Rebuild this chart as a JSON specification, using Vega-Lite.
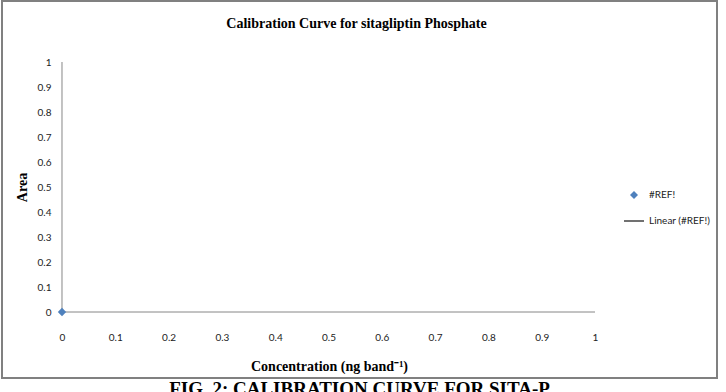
{
  "$schema": "https://vega.github.io/schema/vega-lite/v6.json",
  "width": 715,
  "height": 377,
  "autosize": {"type": "none"},
  "padding": {"left": 2, "top": 1, "right": 9, "bottom": 14},
  "background": "white",
  "title": {"text": "FIG. 2: CALIBRATION CURVE FOR SITA-P", "orient": "bottom", "anchor": "middle", "offset": 2, "font": "Liberation Serif", "fontSize": 19, "fontWeight": "bold", "color": "#000000"},
  "config": {
    "view": {"stroke": "#808080", "strokeWidth": 2},
    "axis": {"labelFont": "Lato", "labelFontSize": 10, "labelColor": "#222222", "labelOverlap": false, "titleFont": "Liberation Serif", "titleFontWeight": "bold", "titleFontSize": 13, "titleColor": "#000000", "grid": false, "domain": false, "ticks": false},
    "legend": {"orient": "none", "legendX": 627, "legendY": 189, "padding": 0, "rowPadding": 16, "labelOffset": 10, "symbolSize": 64, "symbolStrokeWidth": 0, "labelFont": "Lato", "labelFontSize": 10, "labelColor": "#222222"}
  },
  "layer": [
    {
      "data": {"values": [{"x": 0, "y": 0, "x2": 0, "y2": 1}, {"x": 0, "y": 0, "x2": 1, "y2": 0}]},
      "mark": {"type": "rule", "color": "#868686", "strokeWidth": 1},
      "encoding": {
        "x": {"field": "x", "type": "quantitative", "scale": {"domain": [-0.11257, 1.22889], "nice": false, "zero": false},
          "axis": {"orient": "bottom", "offset": -66, "values": [0, 0.1, 0.2, 0.3, 0.4, 0.5, 0.6, 0.7, 0.8, 0.9, 1], "format": "~g", "labelOverlap": false, "labelPadding": 20, "title": "Concentration (ng band⁻¹)", "titlePadding": 17, "titleX": 327, "titleAlign": "center", "titleFontSize": 14}},
        "x2": {"field": "x2"},
        "y": {"field": "y", "type": "quantitative", "scale": {"domain": [-0.264, 1.244], "nice": false, "zero": false},
          "axis": {"orient": "left", "offset": -60, "values": [0, 0.1, 0.2, 0.3, 0.4, 0.5, 0.6, 0.7, 0.8, 0.9, 1], "format": "~g", "labelOverlap": false, "labelPadding": 11, "title": "Area", "titlePadding": 8, "titleY": 186, "titleFontSize": 14}},
        "y2": {"field": "y2"}
      }
    },
    {
      "data": {"values": [{"x": 0, "y": 0, "series": "#REF!"}]},
      "mark": {"type": "point", "filled": true, "opacity": 1, "size": 70},
      "encoding": {
        "x": {"field": "x", "type": "quantitative", "scale": {"domain": [-0.11257, 1.22889], "nice": false, "zero": false},
          "axis": {"orient": "top", "offset": -29, "labels": false, "title": "Calibration Curve for sitagliptin Phosphate", "titleFontSize": 14, "titlePadding": 0, "titleX": 354, "titleAlign": "center"}},
        "y": {"field": "y", "type": "quantitative", "scale": {"domain": [-0.264, 1.244], "nice": false, "zero": false}, "axis": {"values": [0, 0.1, 0.2, 0.3, 0.4, 0.5, 0.6, 0.7, 0.8, 0.9, 1], "labelOverlap": false}},
        "color": {"field": "series", "type": "nominal", "scale": {"domain": ["#REF!", "Linear (#REF!)"], "range": ["#4F81BD", "#000000"]}, "legend": {"title": null}},
        "shape": {"field": "series", "type": "nominal", "scale": {"domain": ["#REF!", "Linear (#REF!)"], "range": ["diamond", "M-2.5,-0.14H2.5V0.14H-2.5Z"]}, "legend": {"title": null}}
      }
    }
  ],
  "resolve": {"axis": {"x": "independent"}}
}
